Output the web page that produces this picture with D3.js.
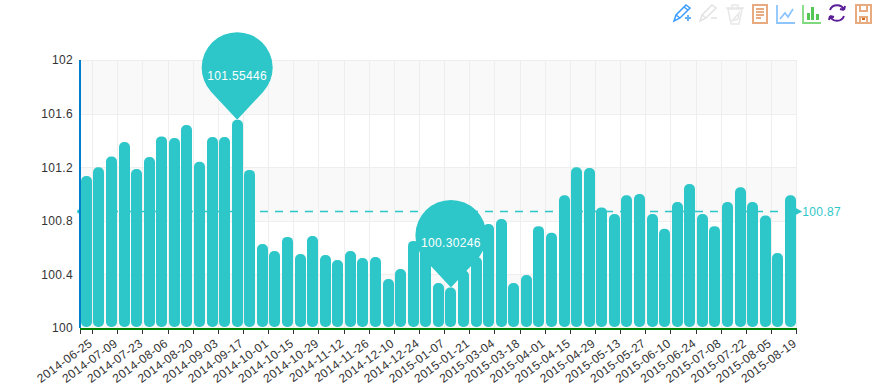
<!DOCTYPE html>
<html>
<head>
<meta charset="utf-8">
<script src="https://cdn.jsdelivr.net/npm/d3@7"></script>
<style>
  html, body { margin: 0; padding: 0; background: #fff; overflow: hidden; }
  svg { display: block; }
  text { font-family: "Liberation Sans", Arial, sans-serif; font-size: 12px; letter-spacing: 0.35px; }
</style>
</head>
<body>
<svg id="chart" width="876" height="388"></svg>
<script>
// Data
const dates = [
  "2014-06-25", "2014-07-02", "2014-07-09", "2014-07-16", "2014-07-23", "2014-07-30",
  "2014-08-06", "2014-08-13", "2014-08-20", "2014-08-27", "2014-09-03", "2014-09-10",
  "2014-09-17", "2014-09-24", "2014-10-01", "2014-10-08", "2014-10-15", "2014-10-22",
  "2014-10-29", "2014-11-05", "2014-11-12", "2014-11-19", "2014-11-26", "2014-12-03",
  "2014-12-10", "2014-12-17", "2014-12-24", "2014-12-31", "2015-01-07", "2015-01-14",
  "2015-01-21", "2015-02-04", "2015-03-04", "2015-03-11", "2015-03-18", "2015-03-25",
  "2015-04-01", "2015-04-08", "2015-04-15", "2015-04-22", "2015-04-29", "2015-05-06",
  "2015-05-13", "2015-05-20", "2015-05-27", "2015-06-03", "2015-06-10", "2015-06-17",
  "2015-06-24", "2015-07-01", "2015-07-08", "2015-07-15", "2015-07-22", "2015-07-29",
  "2015-08-05", "2015-08-12", "2015-08-19"
];
const values = [
  101.134, 101.2, 101.28, 101.388, 101.186, 101.276, 101.43, 101.418, 101.515, 101.24,
  101.425, 101.425, 101.55446, 101.18, 100.627, 100.575, 100.68, 100.552, 100.687, 100.545,
  100.507, 100.575, 100.522, 100.53, 100.366, 100.44, 100.65, 100.72, 100.336, 100.30246,
  100.43, 100.53, 100.776, 100.813, 100.336, 100.395, 100.76, 100.71, 100.99, 101.2,
  101.194, 100.9, 100.85, 100.99, 101.0, 100.85, 100.74, 100.94, 101.075, 100.85,
  100.76, 100.94, 101.05, 100.94, 100.84, 100.56, 100.99
];
const yTicks = [100, 100.4, 100.8, 101.2, 101.6, 102];
const average = 100.87;
const maxIndex = 12;
const minIndex = 29;

const teal = "#2ec7c9";
const margin = { top: 60, left: 80, right: 796.7, bottom: 328 };

const svg = d3.select("#chart");

// Scales
const x = d3.scaleBand().domain(d3.range(dates.length)).range([margin.left, margin.right]);
const y = d3.scaleLinear().domain([100, 102]).range([margin.bottom, margin.top]);
const step = x.step();

// Alternating background bands
svg.append("g").selectAll("rect")
  .data(d3.pairs(yTicks).filter((d, i) => i % 2 === 0))
  .enter().append("rect")
  .attr("x", margin.left)
  .attr("y", d => y(d[1]))
  .attr("width", margin.right - margin.left)
  .attr("height", d => y(d[0]) - y(d[1]))
  .attr("fill", "#f9f9f9");

// Grid lines
svg.append("g").selectAll("line")
  .data(yTicks)
  .enter().append("line")
  .attr("x1", margin.left)
  .attr("x2", margin.right)
  .attr("y1", d => Math.round(y(d)) + 0.5)
  .attr("y2", d => Math.round(y(d)) + 0.5)
  .attr("stroke", "#eee");

const edgeIndex = d3.range(1, dates.length + 1, 2);
svg.append("g").selectAll("line")
  .data(edgeIndex)
  .enter().append("line")
  .attr("x1", d => Math.floor(margin.left + d * step) + 0.5)
  .attr("x2", d => Math.floor(margin.left + d * step) + 0.5)
  .attr("y1", margin.top)
  .attr("y2", margin.bottom)
  .attr("stroke", "#eee");

// Bars
const barWidth = 11;
svg.append("g").selectAll("rect")
  .data(values)
  .enter().append("rect")
  .attr("x", (d, i) => Math.round(x(i) + step / 2 - barWidth / 2))
  .attr("y", d => y(d))
  .attr("width", barWidth)
  .attr("height", d => margin.bottom - 1 - y(d))
  .attr("rx", 5)
  .attr("fill", teal);

// Average line
const avgY = Math.round(y(average)) + 0.5;
svg.append("line")
  .attr("x1", margin.left)
  .attr("x2", margin.right)
  .attr("y1", avgY)
  .attr("y2", avgY)
  .attr("stroke", teal)
  .attr("stroke-width", 1.5)
  .attr("stroke-dasharray", "8,7");
svg.append("circle")
  .attr("cx", margin.left - 1)
  .attr("cy", avgY)
  .attr("r", 2)
  .attr("fill", teal);
svg.append("path")
  .attr("d", `M${margin.right - 1},${avgY - 3.5}L${margin.right + 5.5},${avgY}L${margin.right - 1},${avgY + 3.5}Z`)
  .attr("fill", teal);
svg.append("text")
  .attr("x", margin.right + 5.5)
  .attr("y", avgY + 4)
  .attr("fill", teal)
  .text(average);

// Axes
const xAxis = d3.axisBottom(x)
  .tickValues(d3.range(0, dates.length, 2))
  .tickFormat(i => dates[i])
  .tickSize(0);
const xAxisG = svg.append("g")
  .attr("transform", `translate(0, ${margin.bottom})`)
  .call(xAxis);
xAxisG.select(".domain").remove();
xAxisG.selectAll("text")
  .attr("fill", "#333")
  .attr("text-anchor", "end")
  .attr("dy", 0)
  .attr("y", 0)
  .attr("transform", "translate(7, 17) rotate(-36)");

svg.append("g").selectAll("line")
  .data([0].concat(edgeIndex))
  .enter().append("line")
  .attr("x1", d => Math.floor(margin.left + d * step) + 0.5)
  .attr("x2", d => Math.floor(margin.left + d * step) + 0.5)
  .attr("y1", margin.bottom)
  .attr("y2", margin.bottom + 6)
  .attr("stroke", "#333");

svg.append("line")
  .attr("x1", margin.left)
  .attr("x2", margin.right)
  .attr("y1", margin.bottom + 1)
  .attr("y2", margin.bottom + 1)
  .attr("stroke", "#008000")
  .attr("stroke-width", 2);

const yAxis = d3.axisLeft(y)
  .tickValues(yTicks)
  .tickFormat(d => String(d))
  .tickSize(0)
  .tickPadding(7);
const yAxisG = svg.append("g")
  .attr("transform", `translate(${margin.left}, 0)`)
  .call(yAxis);
yAxisG.select(".domain").remove();
yAxisG.selectAll("text").attr("fill", "#333");

svg.append("line")
  .attr("x1", margin.left)
  .attr("x2", margin.left)
  .attr("y1", margin.top)
  .attr("y2", margin.bottom)
  .attr("stroke", "#0080cc")
  .attr("stroke-width", 2);

// Max and min pins
const pinRadius = 35.5;
const pinRise = 52;
function pinPath(r, h) {
  const a = Math.acos(r / h);
  const sx = r * Math.sin(a);
  const sy = r * Math.cos(a);
  return `M0,${h}L${-sx},${sy}A${r},${r} 0 1 1 ${sx},${sy}Z`;
}
const pins = svg.append("g").selectAll("g")
  .data([maxIndex, minIndex])
  .enter().append("g")
  .attr("transform", d => `translate(${x(d) + step / 2}, ${y(values[d]) - pinRise})`);
pins.append("path")
  .attr("d", pinPath(pinRadius, pinRise))
  .attr("fill", teal);
pins.append("text")
  .attr("y", 12)
  .attr("text-anchor", "middle")
  .attr("fill", "#fff")
  .text(d => values[d].toFixed(5));

// Toolbox icons
const icons = [
  { x: 673, color: "#3b9cff", d: "M1,17L3,11L13,1L17,4L7,14ZM3,11L7,14M11,3L15,6", width: 1.5 },
  { x: 699, color: "#e2e2e2", d: "M1,17L3,11L13,1L17,4L7,14ZM3,11L7,14M12,14H18", width: 1.5 },
  { x: 725, color: "#e8e8e8", d: "M3,5L6,20H14L17,5ZM1,4H19M7,4V1H13V4M7,17L14,9L13,15Z", width: 1.5 },
  { x: 752, color: "#e8ab80", d: "M1,1H15V19H1ZM4,5H12M4,8H12M4,11H12M4,14H9", width: 2 },
  { x: 776, color: "#8ec5ff", d: "M1,1V19H19M4,15L9,9L12,13L17,5", width: 1.8 },
  { x: 802, color: "#7fd97f", d: "M1,1V19H19", width: 1.8 }
];
const toolbox = svg.append("g");
icons.forEach(icon => {
  const g = toolbox.append("g").attr("transform", `translate(${icon.x}, 4)`);
  g.append("path")
    .attr("d", icon.d)
    .attr("fill", "none")
    .attr("stroke", icon.color)
    .attr("stroke-width", icon.width);
});
// Plus sign of the zoom icon
toolbox.append("path")
  .attr("d", "M685,18H691M688,15V21")
  .attr("fill", "none")
  .attr("stroke", "#64b0f5")
  .attr("stroke-width", 2);
// Bar icon columns
const barIcon = toolbox.append("g").attr("transform", "translate(802, 4)");
[[5, 9], [9, 3], [14, 10]].forEach(b => {
  barIcon.append("rect")
    .attr("x", b[0])
    .attr("y", b[1])
    .attr("width", 3)
    .attr("height", 16 - b[1])
    .attr("fill", "#55c655");
});
// Restore icon
toolbox.append("g").attr("transform", "translate(837, 13)")
  .append("path")
  .attr("d", "M-7,-3A7.5,7.5 0 0 1 7,-3M7,-3L3,-4M7,-3L8,-7M7,3A7.5,7.5 0 0 1 -7,3M-7,3L-3,4M-7,3L-8,7")
  .attr("fill", "none")
  .attr("stroke", "#5a1e96")
  .attr("stroke-width", 2);
// Save icon
const saveIcon = toolbox.append("g").attr("transform", "translate(855, 4)");
saveIcon.append("path")
  .attr("d", "M1,1H16V19H1ZM5,1V7H12V1M5,19V13H12V19")
  .attr("fill", "none")
  .attr("stroke", "#e8ab80")
  .attr("stroke-width", 2);
saveIcon.append("rect")
  .attr("x", 7)
  .attr("y", 14)
  .attr("width", 3)
  .attr("height", 2)
  .attr("fill", "#d2691e");
</script>
</body>
</html>
